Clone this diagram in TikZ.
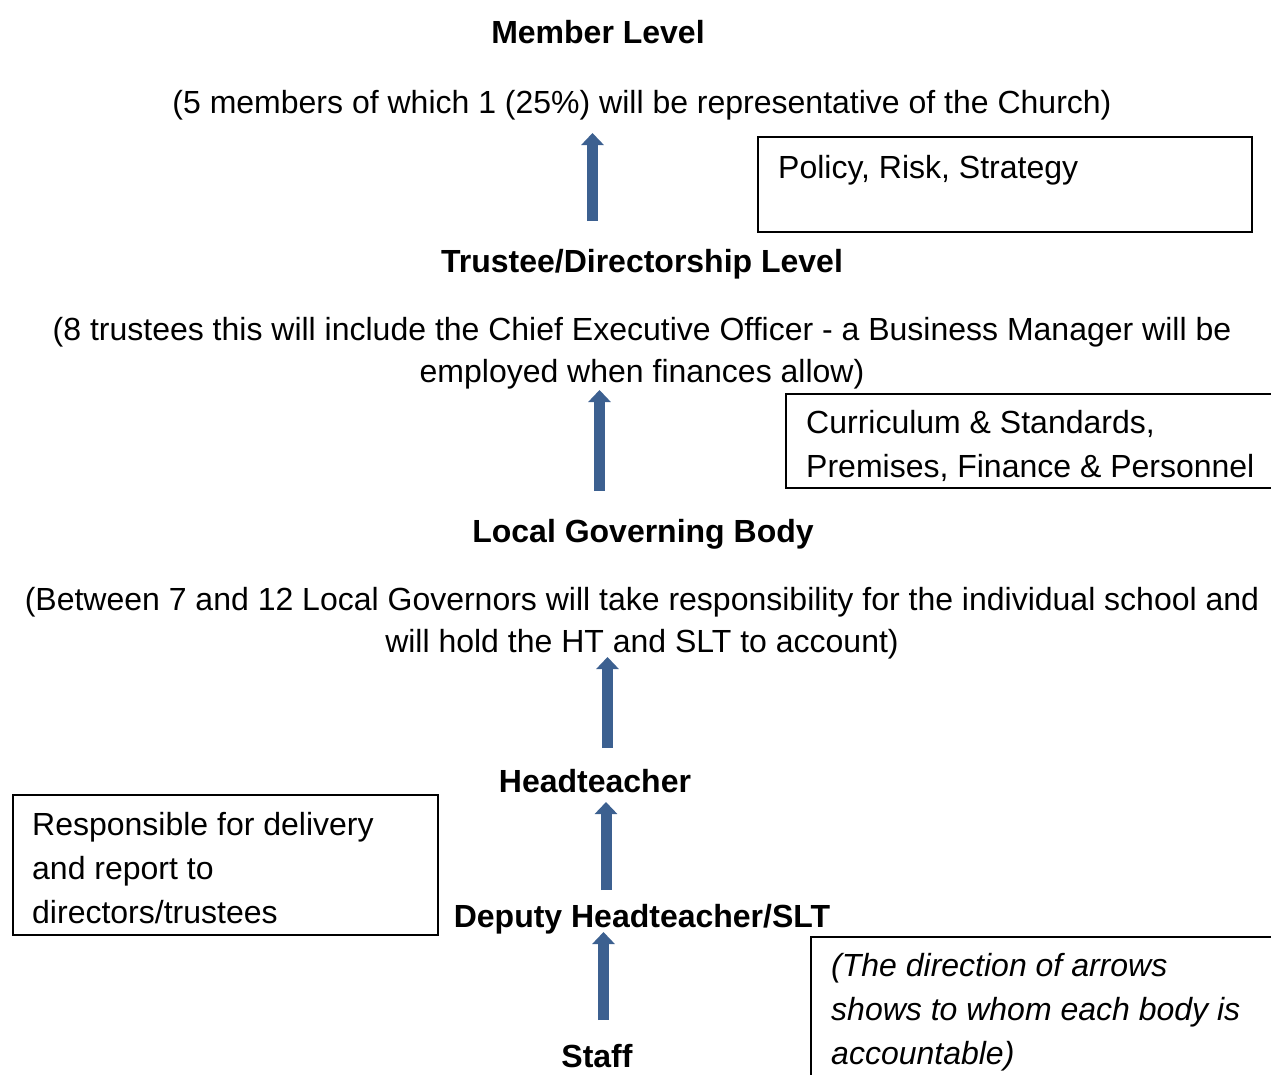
\documentclass[tikz,border=0pt]{standalone}
\usepackage{fontspec}
\setmainfont{Liberation Sans}
\usetikzlibrary{arrows.meta,calc}
\definecolor{arrowblue}{RGB}{60,96,144}
\begin{document}
\begin{tikzpicture}[x=1pt,y=-1pt,
  txt/.style={inner sep=0pt, anchor=base, font=\fontsize{32}{43}\selectfont},
  title/.style={txt, font=\fontsize{32}{43}\selectfont\bfseries},
  para/.style={txt, align=center, font=\fontsize{32}{42}\selectfont},
  framebox/.style={draw=black, line width=2pt, inner sep=0pt, anchor=north west},
  boxtext/.style={inner sep=0pt, anchor=base west, align=left, font=\fontsize{32}{44}\selectfont},
  upward/.style={draw=arrowblue, line width=11pt, -{Triangle[width=22pt,length=12pt]}, color=arrowblue}]
\useasboundingbox (0,0) rectangle (1271,1074);
\clip (0,0) rectangle (1271,1074);

% levels of the hierarchy (multi-line nodes sit on their last baseline)
\node[title] (member) at (598,43) {Member Level};
\node[txt] (memberinfo) at (642,113) {(5 members of which 1 (25\%) will be representative of the Church)};
\node[title] (trustee) at (642,272) {Trustee/Directorship Level};
\node[para] (trusteeinfo) at (642,382) {(8 trustees this will include the Chief Executive Officer - a Business Manager will be\\employed when finances allow)};
\node[title] (lgb) at (643,542) {Local Governing Body};
\node[para] (lgbinfo) at (642,652) {(Between 7 and 12 Local Governors will take responsibility for the individual school and\\will hold the HT and SLT to account)};
\node[title] (head) at (595,792) {Headteacher};
\node[title] (deputy) at (642,927) {Deputy Headteacher/SLT};
\node[title] (staff) at (597,1067) {Staff};

% side notes
\node[framebox, minimum width=494pt, minimum height=95pt] (policybox) at (757,136) {};
\node[boxtext] (policytext) at ($(policybox.north west)+(21,42)$) {Policy, Risk, Strategy};
\node[framebox, minimum width=520pt, minimum height=94pt] (committeebox) at (785,393) {};
\node[boxtext] (committeetext) at ($(committeebox.north west)+(21,84)$) {Curriculum \& Standards,\\Premises, Finance \& Personnel};
\node[framebox, minimum width=425pt, minimum height=140pt] (deliverybox) at (12,794) {};
\node[boxtext] (deliverytext) at ($(deliverybox.north west)+(20,129)$) {Responsible for delivery\\and report to\\directors/trustees};
\node[framebox, minimum width=500pt, minimum height=200pt] (notebox) at (810,936) {};
\node[boxtext, font=\fontsize{32}{44}\selectfont\itshape] (notetext) at ($(notebox.north west)+(21,128)$) {(The direction of arrows\\shows to whom each body is\\accountable)};

% accountability arrows
\coordinate (a1tail) at (592.5,221);
\coordinate (a1tip) at (592.5,133);
\coordinate (a2tail) at (599.5,491);
\coordinate (a2tip) at (599.5,390);
\coordinate (a3tail) at (607.5,748);
\coordinate (a3tip) at (607.5,657);
\coordinate (a4tail) at (606,890);
\coordinate (a4tip) at (606,802);
\coordinate (a5tail) at (603.5,1020);
\coordinate (a5tip) at (603.5,932);
\draw[upward] (a1tail) -- (a1tip);
\draw[upward] (a2tail) -- (a2tip);
\draw[upward] (a3tail) -- (a3tip);
\draw[upward] (a4tail) -- (a4tip);
\draw[upward] (a5tail) -- (a5tip);
\end{tikzpicture}
\end{document}
